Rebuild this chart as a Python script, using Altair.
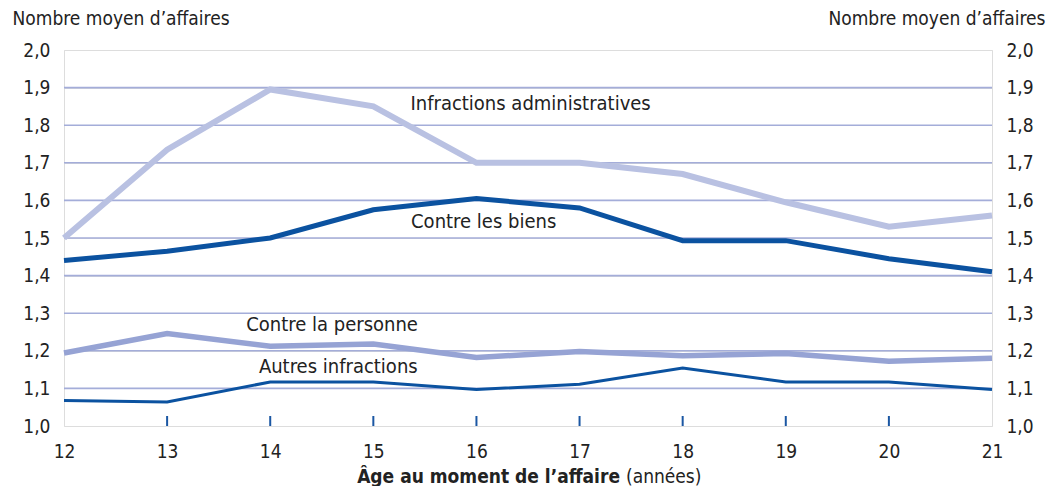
import altair as alt
import pandas as pd

ages = [12, 13, 14, 15, 16, 17, 18, 19, 20, 21]
admin = [1.50, 1.735, 1.895, 1.85, 1.70, 1.70, 1.67, 1.595, 1.53, 1.56]
biens = [1.44, 1.465, 1.50, 1.575, 1.605, 1.58, 1.493, 1.493, 1.445, 1.41]
personne = [1.194, 1.246, 1.212, 1.218, 1.182, 1.198, 1.187, 1.193, 1.172, 1.18]
autres = [1.068, 1.064, 1.117, 1.117, 1.097, 1.111, 1.154, 1.117, 1.117, 1.097]

series_names = ["Infractions administratives", "Contre les biens", "Contre la personne", "Autres infractions"]
series_vals = [admin, biens, personne, autres]
series_colors = ["#b9c1e2", "#0b52a0", "#96a3d4", "#0b52a0"]
series_widths = [6, 5, 5.5, 3]

label_x = [15.36, 16.07, 14.6, 14.66]
label_y = [1.856, 1.543, 1.269, 1.157]
label_align = ["left", "center", "center", "center"]

FONT = "DejaVu Sans Condensed, Liberation Sans Narrow, sans-serif"
FS = 19
W, H = 928, 376
AXIS_BLUE = "#1b57a3"
GRID = "#a4add9"

rows = []
for name, vals in zip(series_names, series_vals):
    for a, v in zip(ages, vals):
        rows.append({"age": a, "val": v, "serie": name})
df = pd.DataFrame(rows)

xs = alt.Scale(domain=[12, 21], nice=False, zero=False)
ys = alt.Scale(domain=[1.0, 2.0], nice=False, zero=False)
lab = "replace(format(datum.value, '.1f'), '.', ',')"

base_axis_y = dict(values=[1.0, 1.1, 1.2, 1.3, 1.4, 1.5, 1.6, 1.7, 1.8, 1.9, 2.0],
                   labelExpr=lab, labelFont=FONT, labelFontSize=FS, labelColor="#222",
                   ticks=False, domain=False, titleFont=FONT, titleFontSize=FS,
                   titleFontWeight="normal", titleColor="#222", titleAngle=0,
                   titleBaseline="alphabetic", labelBound=False, labelFlush=False,
                   labelOverlap=False)

xax = alt.Axis(values=ages, format="d", labelFont=FONT, labelFontSize=FS, labelColor="#222",
               ticks=False, domain=False, grid=False, labelPadding=16, labelFlush=False,
               labelOverlap=False, title=None)

grid = alt.Chart(pd.DataFrame({"v": [1.1, 1.2, 1.3, 1.4, 1.5, 1.6, 1.7, 1.8, 1.9]})).mark_rule(
    color=GRID, strokeWidth=1.6).encode(
    y=alt.Y("v:Q", scale=ys, axis=alt.Axis(orient="left", title="Nombre moyen d\u2019affaires",
            titleX=-52, titleY=-26, titleAlign="left", labelPadding=14, **base_axis_y)),
)

lines = []
for name, col, w in zip(series_names, series_colors, series_widths):
    lines.append(
        alt.Chart(df[df.serie == name]).mark_line(color=col, strokeWidth=w, strokeJoin="miter").encode(
            x=alt.X("age:Q", scale=xs, axis=xax),
            y=alt.Y("val:Q", scale=ys, axis=None),
        )
    )

ldf = pd.DataFrame({"x": label_x, "y": label_y, "t": series_names, "a": label_align})
labels = []
for al in ["left", "center"]:
    labels.append(alt.Chart(ldf[ldf.a == al]).mark_text(font=FONT, fontSize=FS + 1, color="#222",
                                                         align=al, baseline="middle").encode(
        x=alt.X("x:Q", scale=xs, axis=xax), y=alt.Y("y:Q", scale=ys, axis=None), text="t:N"))

ticks = alt.Chart(pd.DataFrame({"age": ages[1:-1]})).mark_rule(color=AXIS_BLUE, strokeWidth=2).encode(
    x=alt.X("age:Q", scale=xs, axis=xax), y=alt.value(H - 10), y2=alt.value(H))

right = alt.Chart(pd.DataFrame({"v": [1.0, 2.0]})).mark_point(opacity=0).encode(
    y=alt.Y("v:Q", scale=ys, axis=alt.Axis(orient="right", title="Nombre moyen d\u2019affaires",
            titleX=53, titleY=-26, titleAlign="right", labelPadding=14, **base_axis_y)),
)

xt1 = alt.Chart(pd.DataFrame({"t": ["\u00c2ge au moment de l\u2019affaire"]})).mark_text(
    font=FONT, fontSize=FS, fontWeight="bold", color="#222", align="right", baseline="alphabetic").encode(
    x=alt.value(556), y=alt.value(433), text="t:N")
xt2 = alt.Chart(pd.DataFrame({"t": ["(ann\u00e9es)"]})).mark_text(
    font=FONT, fontSize=FS, color="#222", align="left", baseline="alphabetic").encode(
    x=alt.value(562), y=alt.value(433), text="t:N")

chart = alt.layer(grid, *lines, *labels, ticks, xt1, xt2, right).resolve_axis(y="independent").properties(
    width=W, height=H,
    autosize=alt.AutoSizeParams(type="none"),
    padding={"left": 56, "top": 42, "right": 60, "bottom": 60},
).configure_view(stroke=AXIS_BLUE, strokeWidth=2.5).configure(background="white")

chart.save("out.html", embed_options={"renderer": "svg", "actions": False})
